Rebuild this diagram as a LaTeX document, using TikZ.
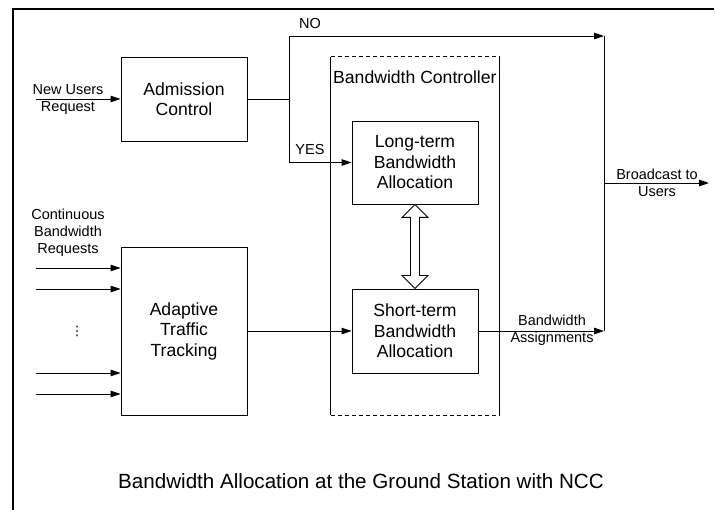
\documentclass[tikz,border=0pt]{standalone}
\usepackage{fontspec}
\setmainfont{Liberation Sans}
\newfontfamily\symfont{DejaVu Sans}
\usetikzlibrary{arrows.meta,calc}
\begin{document}
\begin{tikzpicture}[x=1pt,y=-1pt,
  box/.style={draw,line width=0.9pt,inner sep=0pt,align=center,font=\fontsize{17.6}{20.5}\selectfont},
  lbl/.style={inner sep=0pt,align=center,font=\fontsize{14.5}{17}\selectfont},
  arr/.style={line width=0.9pt,-{Triangle[length=10pt,width=6.5pt]}},
  ln/.style={line width=0.9pt}]
\useasboundingbox (0,0) rectangle (715,510);
% outer frame (top and left edges)
\draw[line width=2pt] (13,510) -- (13,9) -- (714,9);

% boxes
\node[box,minimum width=126,minimum height=84] (adm) at (184,99) {Admission\\Control};
\node[box,minimum width=126,minimum height=168] (att) at (184,331) {Adaptive\\Traffic\\Tracking};
\node[box,minimum width=126,minimum height=83] (lt) at (415,162.5) {Long-term\\Bandwidth\\Allocation};
\node[box,minimum width=126,minimum height=84] (st) at (415,331) {Short-term\\Bandwidth\\Allocation};

% bandwidth controller frame
\node[draw=none,minimum width=168,minimum height=358,inner sep=0pt] (ctrl) at (415,236) {};
\draw[ln,dash pattern=on 4.5pt off 2.5pt] (ctrl.north west) -- (ctrl.north east);
\draw[ln,dash pattern=on 4.5pt off 2.5pt] (ctrl.south west) -- (ctrl.south east);
\draw[ln] (ctrl.north west) -- (ctrl.south west);
\draw[ln] (ctrl.north east) -- (ctrl.south east);
\node[anchor=base west,inner sep=0pt,font=\fontsize{17.6}{20.5}\selectfont] (ctrllbl) at (333,84) {Bandwidth Controller};

% coordinates
\coordinate (nu) at (36,99);
\coordinate (sp) at (289,99);
\coordinate (nojoin) at (604,36);
\coordinate (bajoin) at (604,331);
\coordinate (bc) at (604,183);
\coordinate (bcend) at (709,183);
\coordinate (r1) at (36,268);
\coordinate (r2) at (36,289);
\coordinate (r3) at (36,373);
\coordinate (r4) at (36,394);

% new users request
\draw[arr] (nu) -- (adm.west);
\node[lbl] (nulbl) at (68,99.5) {New Users\\Request};

% admission outputs
\draw[ln] (adm.east) -- (sp);
\draw[arr] (sp) |- (nojoin);
\draw[arr] (sp) |- (lt.west);
\node[lbl] (nolbl) at (310,24) {NO};
\node[lbl] (yeslbl) at (310,150) {YES};

% continuous requests
\node[lbl] (crlbl) at (68,233) {Continuous\\Bandwidth\\Requests};
\draw[arr] (r1) -- (r1 -| att.west);
\draw[arr] (r2) -- (r2 -| att.west);
\draw[arr] (r3) -- (r3 -| att.west);
\draw[arr] (r4) -- (r4 -| att.west);
\node[inner sep=0pt,font=\symfont\fontsize{13}{15}\selectfont] (dots) at (77,331) {⋮};

% adaptive -> short-term
\draw[arr] (att.east) -- (st.west);

% double arrow between long-term and short-term
\draw[ln,fill=white] (lt.south) -- ($(lt.south)+(13,13)$) -- ($(lt.south)+(4.5,13)$)
  -- ($(st.north)+(4.5,-13)$) -- ($(st.north)+(13,-13)$) -- (st.north)
  -- ($(st.north)+(-13,-13)$) -- ($(st.north)+(-4.5,-13)$)
  -- ($(lt.south)+(-4.5,13)$) -- ($(lt.south)+(-13,13)$) -- cycle;

% short-term -> assignments
\draw[arr] (st.east) -- (bajoin);
\node[lbl] (balbl) at (552,330) {Bandwidth\\Assignments};

% vertical collector and broadcast
\draw[ln] (nojoin) -- (bajoin);
\draw[arr] (bc) -- (bcend);
\node[lbl] (bclbl) at (657,183) {Broadcast to\\Users};

% caption
\node[anchor=base,inner sep=0pt,font=\fontsize{20.6}{24}\selectfont] (cap) at (361,488.3) {Bandwidth Allocation at the Ground Station with NCC};
\end{tikzpicture}
\end{document}
